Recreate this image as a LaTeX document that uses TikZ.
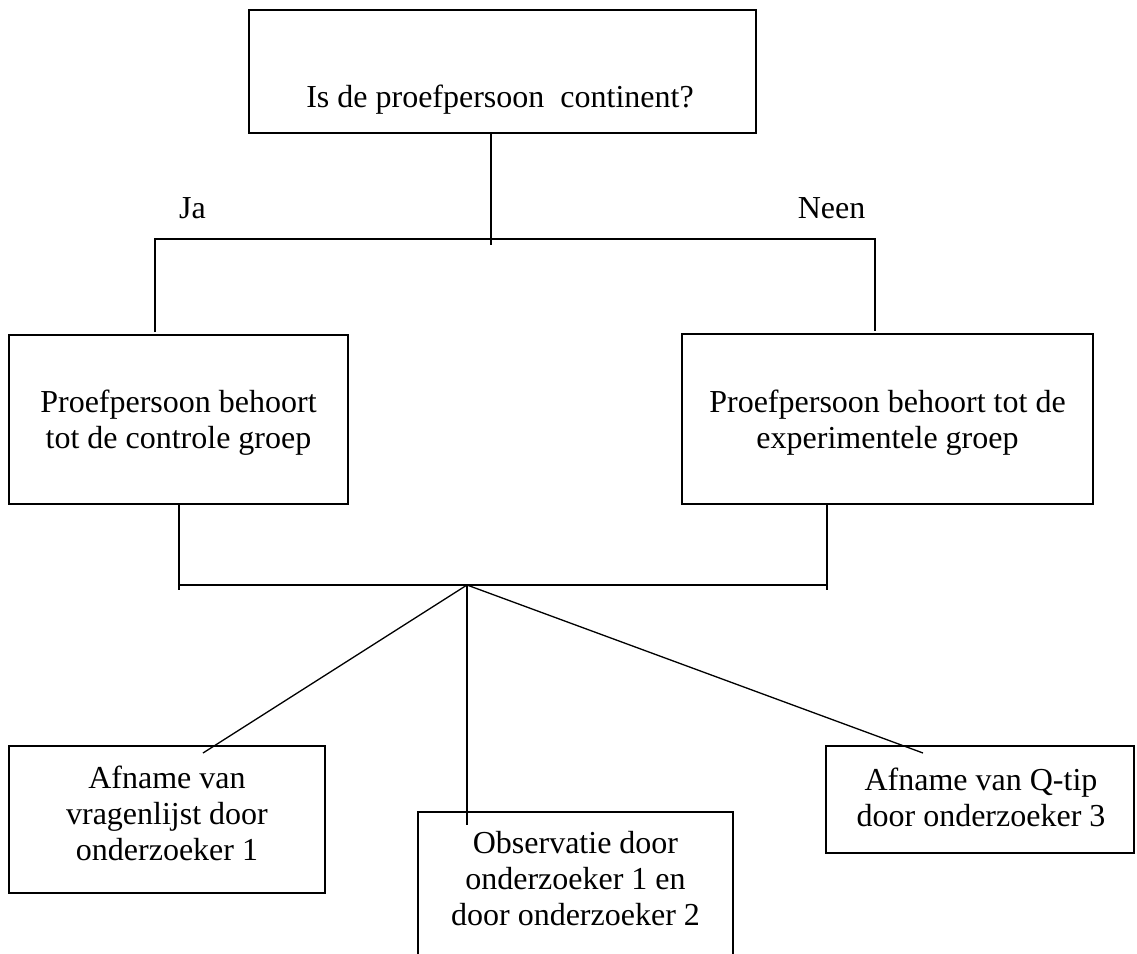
\documentclass[tikz,border=0pt]{standalone}
\usepackage{fontspec}
\setmainfont{Liberation Serif}
\begin{document}
\begin{tikzpicture}[x=1pt,y=-1pt,
  boxnode/.style={draw=black,line width=1.6pt,inner sep=0pt,outer sep=0pt},
  txt/.style={inner sep=0pt,outer sep=0pt,align=center,font=\fontsize{32}{36}\selectfont},
  conn/.style={draw=black,line width=1.3pt}]
\useasboundingbox (0,0) rectangle (1137,953);
% boxes
\node[boxnode,minimum width=507pt,minimum height=123pt] (top) at (502.5,71.5) {};
\node[boxnode,minimum width=339pt,minimum height=169pt] (ctrl) at (178.5,419.5) {};
\node[boxnode,minimum width=411pt,minimum height=170pt] (expt) at (887.5,419) {};
\node[boxnode,minimum width=316pt,minimum height=147pt] (vrag) at (167,819.5) {};
\node[boxnode,minimum width=315pt,minimum height=160pt] (obs) at (575.5,892) {};
\node[boxnode,minimum width=308pt,minimum height=107pt] (qtip) at (980,799.5) {};
% texts
\node[txt,anchor=base] (ttop) at (500,107) {Is de proefpersoon\ \ continent?};
\node[txt,anchor=base] (ja) at (192.5,218) {Ja};
\node[txt,anchor=base] (neen) at (831.5,218) {Neen};
\node[txt,anchor=north] (tctrl) at (178.5,390) {Proefpersoon behoort\\tot de controle groep};
\node[txt,anchor=north] (texpt) at (887.5,390) {Proefpersoon behoort tot de\\experimentele groep};
\node[txt,anchor=north] (tvrag) at (167,766) {Afname van\\vragenlijst door\\onderzoeker 1};
\node[txt,anchor=north] (tobs) at (575.5,831) {Observatie door\\onderzoeker 1 en\\door onderzoeker 2};
\node[txt,anchor=north] (tqtip) at (981,768) {Afname van Q-tip\\door onderzoeker 3};
% junction coordinates
\coordinate (j1) at (491,239);
\coordinate (j1end) at (491,245);
\coordinate (jaL) at (155,239);
\coordinate (neeR) at (875,239);
\coordinate (bl) at (179,585);
\coordinate (blend) at (179,590);
\coordinate (br) at (827,585);
\coordinate (brend) at (827,590);
\coordinate (fork) at (467,585);
\coordinate (d1) at (203,753);
\coordinate (d2) at (467,825);
\coordinate (d3) at (923,753);
% connectors
\draw[conn] (top.south -| j1) -- (j1end);
\draw[conn] (jaL |- ctrl.north) ++(0,-3) -- (jaL) -- (neeR) -- ([yshift=3pt]neeR |- expt.north);
\draw[conn] (ctrl.south -| bl) -- (blend);
\draw[conn] (bl) -- (br);
\draw[conn] (expt.south -| br) -- (brend);
\draw[conn] (fork) -- (d1);
\draw[conn] (fork) -- (d2);
\draw[conn] (fork) -- (d3);
\end{tikzpicture}
\end{document}
